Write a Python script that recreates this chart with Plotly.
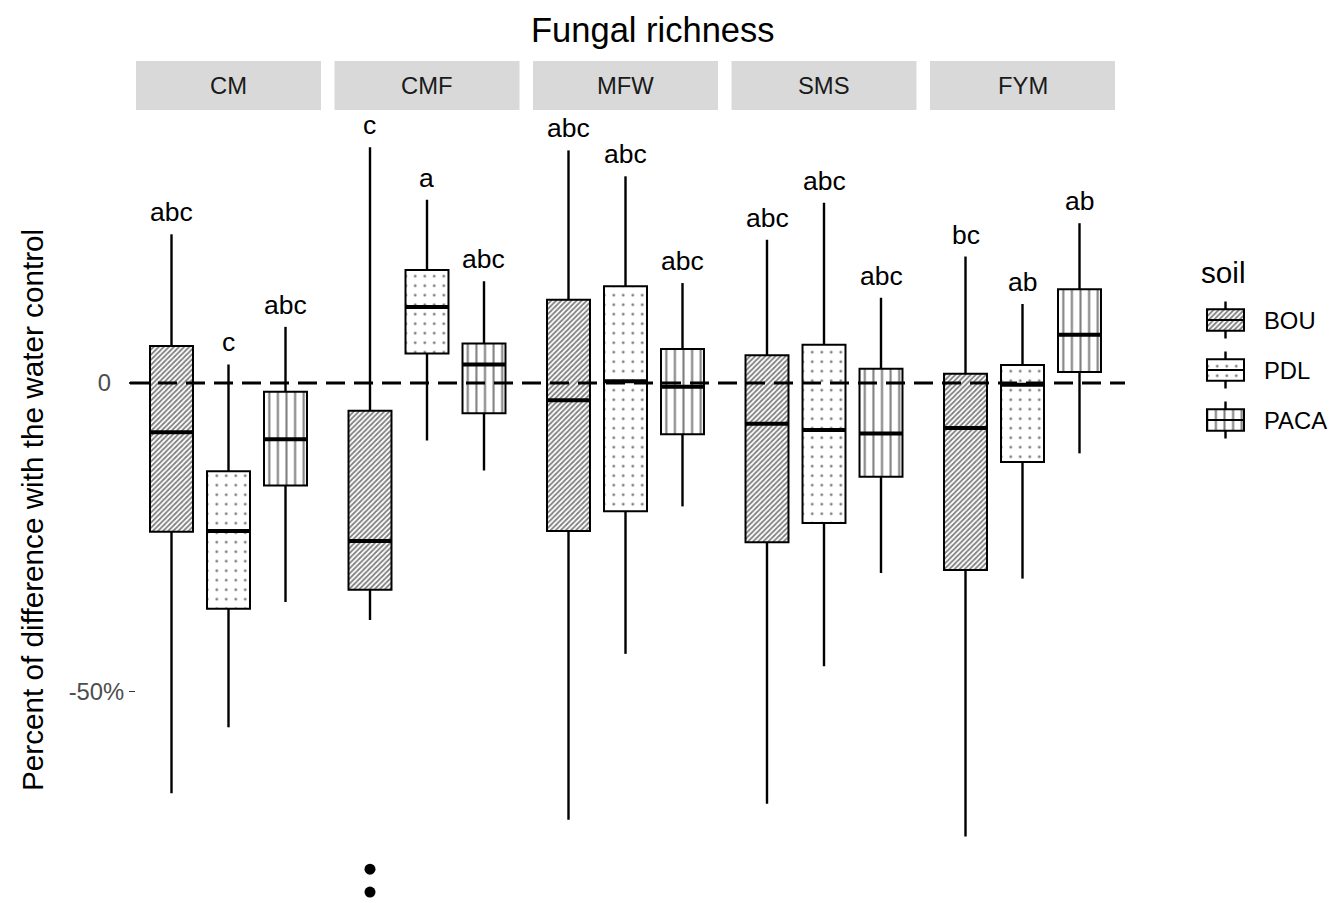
import plotly.graph_objects as go

W, H = 1329, 903

facets = ["CM", "CMF", "MFW", "SMS", "FYM"]
soils = ["BOU", "PDL", "PACA"]

# values per facet (rows) and soil (columns), percent
upper = [[24.1, 3.0, 9.1], [38.2, 29.7, 16.5], [37.7, 33.5, 16.2], [23.2, 29.2, 13.8], [20.5, 12.8, 25.9]]
q3 = [[6.0, -14.3, -1.4], [-4.5, 18.3, 6.4], [13.5, 15.7, 5.5], [4.5, 6.2, 2.3], [1.5, 2.9, 15.2]]
median = [[-8.0, -24.0, -9.1], [-25.6, 12.3, 3.0], [-2.8, 0.3, -0.6], [-6.6, -7.6, -8.2], [-7.3, -0.3, 7.8]]
q1 = [[-24.1, -36.6, -16.6], [-33.5, 4.8, -4.9], [-24.0, -20.8, -8.3], [-25.8, -22.7, -15.2], [-30.3, -12.8, 1.8]]
lower = [[-66.5, -55.8, -35.5], [-38.4, -9.3, -14.2], [-70.8, -43.9, -20.0], [-68.2, -45.9, -30.8], [-73.5, -31.7, -11.4]]
letters = [["abc", "c", "abc"], ["c", "a", "abc"], ["abc", "abc", "abc"], ["abc", "abc", "abc"], ["bc", "ab", "ab"]]

outlier_facet = ["CMF", "CMF"]
outlier_soil = ["BOU", "BOU"]
outlier_value = [-78.8, -82.5]

y_tick_vals = [-50, 0]
y_tick_text = ["-50%", "0\u00a0\u00a0"]

FONT = "Liberation Sans, Arial, sans-serif"

def px(x):
    return x / W

def py(y):
    return 1 - y / H

panel_left = [136, 334.5, 533, 731.5, 930]
panel_w = 185
strip_top, strip_bot = 61, 110
zero_px, unit_px = 383, 6.17
y_range = [(zero_px - H) / unit_px, (zero_px - strip_bot) / unit_px]

dodge = [-1, 0, 1]
box_w = 0.754
half = (panel_w / 2) / 57.0

patterns = {
    "BOU": dict(shape="/", size=3.6, solidity=0.5, fgcolor="black", bgcolor="white", fillmode="overlay"),
    "PDL": dict(shape=".", size=9.5, solidity=0.07, fgcolor="black", bgcolor="white", fillmode="overlay"),
    "PACA": dict(shape="|", size=8.6, solidity=0.24, fgcolor="black", bgcolor="white", fillmode="overlay"),
}

LW_BOX, LW_WHISK, LW_MED = 2.0, 2.4, 4

fig = go.Figure()

for i, fac in enumerate(facets):
    xa = "x" if i == 0 else f"x{i + 1}"
    for j, soil in enumerate(soils):
        fig.add_trace(go.Bar(
            x=[dodge[j]], y=[q3[i][j] - q1[i][j]], base=[q1[i][j]], width=box_w,
            xaxis=xa, yaxis="y", name=soil, legendgroup=soil, showlegend=False,
            marker=dict(color="white", line=dict(color="black", width=LW_BOX), pattern=patterns[soil]),
            hoverinfo="skip",
        ))
    wx, wy = [], []
    for j in range(3):
        wx += [dodge[j], dodge[j], None, dodge[j], dodge[j], None]
        wy += [q3[i][j], upper[i][j], None, q1[i][j], lower[i][j], None]
    fig.add_trace(go.Scatter(x=wx, y=wy, mode="lines", xaxis=xa, yaxis="y",
                             line=dict(color="black", width=LW_WHISK), showlegend=False, hoverinfo="skip"))
    mx, my = [], []
    for j in range(3):
        mx += [dodge[j] - box_w / 2, dodge[j] + box_w / 2, None]
        my += [median[i][j], median[i][j], None]
    fig.add_trace(go.Scatter(x=mx, y=my, mode="lines", xaxis=xa, yaxis="y",
                             line=dict(color="black", width=LW_MED), showlegend=False, hoverinfo="skip"))
    ox = [dodge[soils.index(s)] for f, s in zip(outlier_facet, outlier_soil) if f == fac]
    oy = [v for f, v in zip(outlier_facet, outlier_value) if f == fac]
    if ox:
        fig.add_trace(go.Scatter(x=ox, y=oy, mode="markers", xaxis=xa, yaxis="y",
                                 marker=dict(color="black", size=11), showlegend=False, hoverinfo="skip",
                                 cliponaxis=False))

# ---- custom legend (key glyphs drawn on their own small axes) ----
leg_row_px = 50
leg_first_px = 320
leg_key_w = 37 / 45
leg_box_h = 21.7 / leg_row_px
leg_whisk = 18.5 / leg_row_px
for k, soil in enumerate(soils):
    fig.add_trace(go.Bar(
        x=[0], y=[leg_box_h], base=[k - leg_box_h / 2], width=leg_key_w,
        xaxis="x6", yaxis="y6", name=soil, showlegend=False,
        marker=dict(color="white", line=dict(color="black", width=LW_BOX), pattern=patterns[soil]),
        hoverinfo="skip",
    ))
lx, ly, mx, my = [], [], [], []
for k in range(3):
    lx += [0, 0, None, 0, 0, None]
    ly += [k - leg_whisk, k - leg_box_h / 2, None, k + leg_box_h / 2, k + leg_whisk, None]
    mx += [-leg_key_w / 2, leg_key_w / 2, None]
    my += [k, k, None]
fig.add_trace(go.Scatter(x=lx, y=ly, mode="lines", xaxis="x6", yaxis="y6", cliponaxis=False,
                         line=dict(color="black", width=LW_WHISK), showlegend=False, hoverinfo="skip"))
fig.add_trace(go.Scatter(x=mx, y=my, mode="lines", xaxis="x6", yaxis="y6", cliponaxis=False,
                         line=dict(color="black", width=2), showlegend=False, hoverinfo="skip"))

layout = dict(
    width=W, height=H, margin=dict(l=0, r=0, t=0, b=0, autoexpand=False),
    paper_bgcolor="white", plot_bgcolor="white",
    barmode="overlay", font=dict(family=FONT, color="black"),
    showlegend=False,
    yaxis=dict(
        domain=[0, py(strip_bot)], range=y_range, anchor="x",
        showgrid=False, zeroline=False, showline=False,
        tickvals=y_tick_vals, ticktext=y_tick_text, ticks="outside", ticklen=6, tickwidth=1.5,
        tickcolor="#333333", tickfont=dict(size=23.8, color="#4D4D4D", family=FONT),
        fixedrange=True,
    ),
    xaxis6=dict(domain=[px(1203), px(1248)], range=[-0.5, 0.5], anchor="y6", visible=False, fixedrange=True),
    yaxis6=dict(domain=[py(leg_first_px + 2.5 * leg_row_px), py(leg_first_px - 0.5 * leg_row_px)],
                range=[2.5, -0.5], anchor="x6", visible=False, fixedrange=True),
)
for i in range(5):
    key = "xaxis" if i == 0 else f"xaxis{i + 1}"
    layout[key] = dict(
        domain=[px(panel_left[i]), px(panel_left[i] + panel_w)], range=[-half, half],
        anchor="y", visible=False, fixedrange=True,
    )
fig.update_layout(**layout)

shapes = []
annotations = []
for i, fac in enumerate(facets):
    x0, x1 = panel_left[i], panel_left[i] + panel_w
    shapes.append(dict(type="rect", xref="paper", yref="paper", x0=px(x0), x1=px(x1),
                       y0=py(strip_bot), y1=py(strip_top), fillcolor="#D9D9D9", line=dict(width=0), layer="below"))
    annotations.append(dict(text=fac, xref="paper", yref="paper", x=px((x0 + x1) / 2), y=py((strip_top + strip_bot) / 2),
                            showarrow=False, xanchor="center", yanchor="middle",
                            font=dict(size=23.8, color="#1A1A1A", family=FONT)))
    xa = "x" if i == 0 else f"x{i + 1}"
    for j in range(3):
        annotations.append(dict(text=letters[i][j], xref=xa, yref="y", x=dodge[j], y=upper[i][j],
                                showarrow=False, xanchor="center", yanchor="middle", yshift=22,
                                font=dict(size=26.5, color="black", family=FONT)))

shapes.append(dict(type="line", xref="paper", yref="y", x0=px(130), x1=px(1125), y0=0, y1=0,
                   line=dict(color="black", width=3, dash="19px,9px"), layer="above"))

annotations.append(dict(text="Fungal richness", xref="paper", yref="paper", x=px(653), y=py(30),
                        showarrow=False, xanchor="center", yanchor="middle",
                        font=dict(size=34.5, color="black", family=FONT)))
annotations.append(dict(text="Percent of difference with the water control", xref="paper", yref="paper",
                        x=px(32), y=py(510), textangle=-90, showarrow=False, xanchor="center", yanchor="middle",
                        font=dict(size=29.7, color="black", family=FONT)))
# legend title and labels
annotations.append(dict(text="soil", xref="paper", yref="paper", x=px(1199), y=py(272),
                        showarrow=False, xanchor="left", yanchor="middle",
                        font=dict(size=29.7, color="black", family=FONT)))
for k, soil in enumerate(soils):
    annotations.append(dict(text=soil, xref="paper", yref="y6", x=px(1262), y=k,
                            showarrow=False, xanchor="left", yanchor="middle",
                            font=dict(size=23.8, color="black", family=FONT)))

fig.update_layout(shapes=shapes, annotations=annotations)
fig.write_html(
    "out.html",
    config={"displayModeBar": False, "staticPlot": True},
    post_script="document.body.style.margin='0px';document.body.style.overflow='hidden';",
)
